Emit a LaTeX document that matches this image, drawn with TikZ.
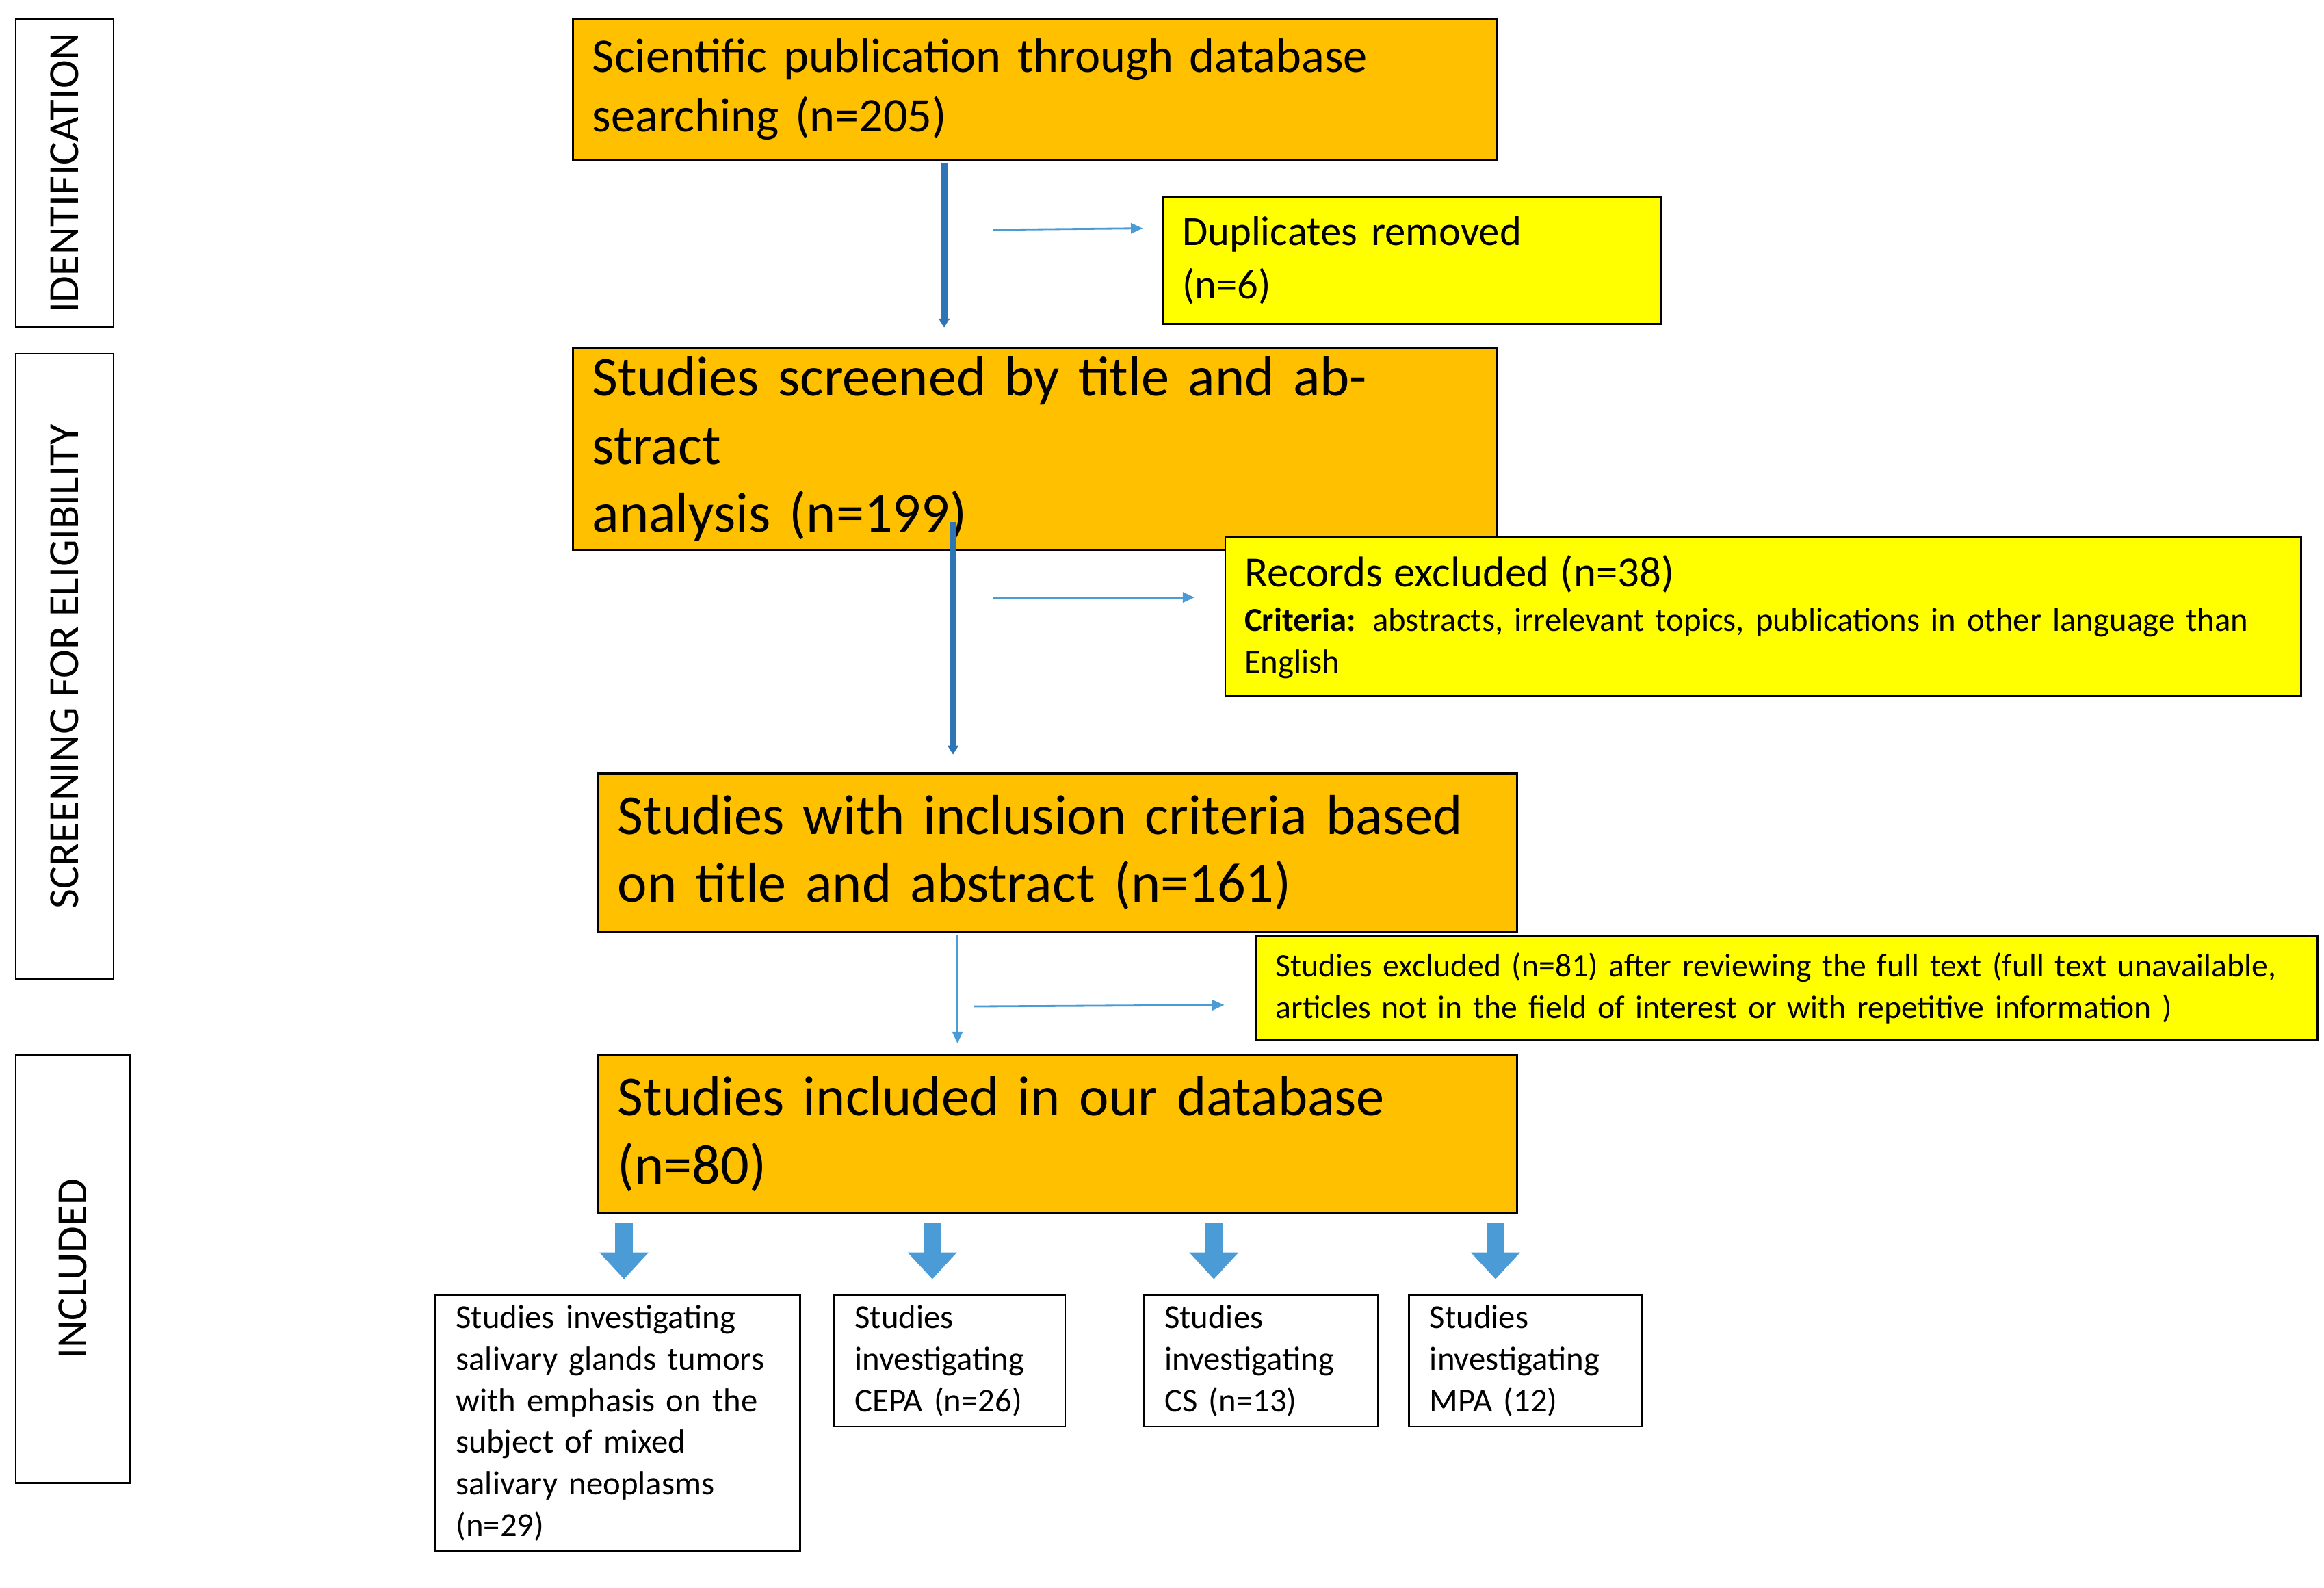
\documentclass[tikz,border=0pt]{standalone}
\usepackage{fontspec}
\setmainfont{Carlito}
\usetikzlibrary{arrows.meta}
\definecolor{org}{HTML}{FFC000}
\definecolor{yel}{HTML}{FFFF00}
\definecolor{blu}{HTML}{2E75B6}
\definecolor{blu2}{HTML}{4A9BD6}
\begin{document}
\begin{tikzpicture}[x=1pt,y=-1pt,
 box/.style={draw=black,line width=1.3pt,anchor=north west,align=left,inner xsep=13pt,inner ysep=6pt},
 obox/.style={box,fill=org},
 ybox/.style={box,fill=yel},
 wbox/.style={box,fill=white,inner xsep=14pt,inner ysep=7pt,font=\fontsize{22.5}{28}\selectfont},
 side/.style={draw=black,line width=1.3pt,anchor=north west,fill=white},
 stxt/.style={rotate=90,font=\fontsize{29}{32}\selectfont},
 big/.style={line width=5pt,draw=blu,-{Triangle[length=6pt,width=7pt]}},
 small/.style={line width=1.3pt,draw=blu2,-{Triangle[length=8pt,width=7pt]}},
 fat/.style={line width=12pt,draw=blu2,-{Triangle[length=18pt,width=32pt]}}]
\useasboundingbox (0,0) rectangle (1568,1071);
% side labels
\node[side,minimum width=66pt,minimum height=208pt] (s1) at (10,12) {};
\node[stxt] (t1) at (s1.center) {IDENTIFICATION};
\node[side,minimum width=66pt,minimum height=422pt] (s2) at (10,238) {};
\node[stxt] (t2) at (s2.center) {SCREENING FOR ELIGIBILITY};
\node[side,minimum width=77pt,minimum height=289pt] (s3) at (10,711) {};
\node[stxt] (t3) at (s3.center) {INCLUDED};
% main boxes
\node[obox,minimum width=623pt,minimum height=95pt,text width=597pt,font=\fontsize{32.5}{40}\selectfont] (b1) at (386,12) {Scientific publication through database\\ searching (n=205)};
\node[ybox,minimum width=335pt,minimum height=86pt,text width=310pt,font=\fontsize{28}{36}\selectfont] (d1) at (784,132) {Duplicates removed\\ (n=6)};
\node[obox,minimum width=623pt,minimum height=106pt,text width=597pt,font=\fontsize{38}{46}\selectfont] (b2) at (386,234) {Studies screened by title and abstract\\ analysis (n=199)};
\node[ybox,minimum width=723pt,minimum height=107pt,text width=700pt,inner ysep=8pt,font=\fontsize{22.5}{28}\selectfont] (d2) at (826,362) {{\fontsize{29}{30}\selectfont Records excluded (n=38)}\\[2pt] \textbf{Criteria:} abstracts, irrelevant topics, publications in other language than\\ English};
\node[obox,minimum width=620pt,minimum height=107pt,text width=594pt,font=\fontsize{38}{46}\selectfont] (b3) at (403,521) {Studies with inclusion criteria based\\ on title and abstract (n=161)};
\node[ybox,minimum width=712pt,minimum height=70pt,text width=690pt,font=\fontsize{22}{28}\selectfont] (d3) at (847,631) {Studies excluded (n=81) after reviewing the full text (full text unavailable,\\ articles not in the field of interest or with repetitive information )};
\node[obox,minimum width=620pt,minimum height=107pt,text width=594pt,font=\fontsize{38}{46}\selectfont] (b4) at (403,711) {Studies included in our database\\ (n=80)};
% bottom boxes
\node[wbox,text width=218pt] (c1) at (293,873) {Studies investigating\\ salivary glands tumors\\ with emphasis on the\\ subject of mixed\\ salivary neoplasms\\ (n=29)};
\node[wbox,text width=128pt] (c2) at (562,873) {Studies\\ investigating\\ CEPA (n=26)};
\node[wbox,text width=130pt] (c3) at (771,873) {Studies\\ investigating\\ CS (n=13)};
\node[wbox,text width=129pt] (c4) at (950,873) {Studies\\ investigating\\ MPA (12)};
% connectors
\coordinate (a1s) at (637,110); \coordinate (a1e) at (637,221);
\draw[big] (a1s) -- (a1e);
\coordinate (h1) at (670,155);
\draw[small] (h1) -- (771,154);
\coordinate (a2s) at (643,352); \coordinate (a2e) at (643,509);
\draw[big] (a2s) -- (a2e);
\coordinate (h2) at (670,403);
\draw[small] (h2) -- (806,403);
\coordinate (a3s) at (646,631); \coordinate (a3e) at (646,704);
\draw[small] (a3s) -- (a3e);
\coordinate (h3) at (657,679);
\draw[small] (h3) -- (826,678);
\foreach \x/\n in {421/c1,629/c2,819/c3,1009/c4}{
  \draw[fat] (\x,825) -- (\x,863);
}
\end{tikzpicture}
\end{document}
